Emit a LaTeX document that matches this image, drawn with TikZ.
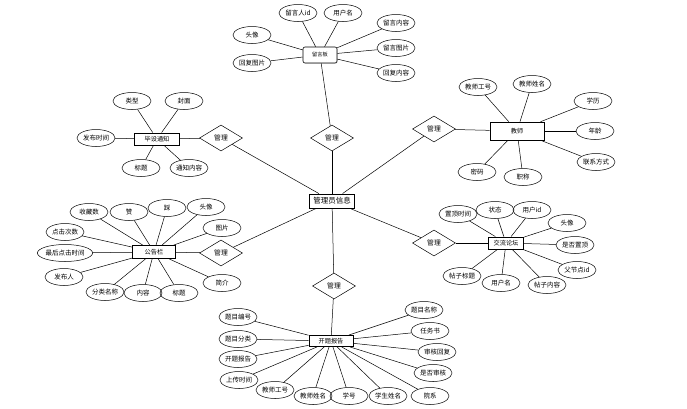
\documentclass[tikz,border=0pt]{standalone}
\usepackage{fontspec}
\newfontfamily\cjk{Noto Sans CJK SC}
\usepackage{tikz}
\usetikzlibrary{shapes.geometric, positioning, shadows}
\tikzset{
    entity/.style={
        rectangle,
        draw=black,
        line width=0.9pt,
        inner sep=1pt,
        align=center,
        fill=white,
        drop shadow={shadow xshift=0.7pt, shadow yshift=-0.7pt, fill=gray!60},
        font=\cjk\fontsize{6.2}{7}\selectfont
    },
    attr/.style={
        ellipse,
        draw=black,
        line width=0.5pt,
        inner sep=0pt,
        minimum width=38pt,
        minimum height=17pt,
        font=\cjk\fontsize{6.5}{7}\selectfont
    },
    relation/.style={
        diamond,
        draw=black,
        line width=0.5pt,
        inner sep=0pt,
        minimum width=43pt,
        minimum height=26pt,
        font=\cjk\fontsize{6.8}{7}\selectfont
    },
    link/.style={
        draw=black,
        line width=0.5pt
    }
}

\begin{document}
\begin{tikzpicture}[x=1pt, y=-1pt]

\useasboundingbox (0,0) rectangle (687,408);

% === CENTRE ===
\node[entity, minimum width=45pt, minimum height=14pt,
      font=\cjk\fontsize{7.5}{8}\selectfont] (admin) at (332,201) {管理员信息};

% === RELATIONS ===
\node[relation] (r1) at (332,138) {管理};
\node[relation] (r2) at (221,138) {管理};
\node[relation] (r3) at (434,129) {管理};
\node[relation] (r4) at (221,253) {管理};
\node[relation] (r5) at (434,243) {管理};
\node[relation] (r6) at (334,286) {管理};

\foreach \r in {r1, r2, r3, r4, r5, r6} {
    \draw[link] (admin) -- (\r);
}

% === ENTITIES ===
\node[entity, rounded corners=2pt, line width=0.6pt, minimum width=34pt,
      minimum height=16pt, font=\cjk\fontsize{5.2}{6}\selectfont] (board) at (320,55) {留言板};
\node[entity, minimum width=45pt, minimum height=12pt] (notice) at (157,139) {毕设通知};
\node[entity, line width=0.6pt, minimum width=54pt, minimum height=18pt] (teacher) at (517,131) {教师};
\node[entity, minimum width=43pt, minimum height=13pt] (bulletin) at (154,252) {公告栏};
\node[entity, minimum width=35pt, minimum height=12pt] (forum) at (506,243) {交流论坛};
\node[entity, minimum width=44pt, minimum height=11pt] (report) at (331,341) {开题报告};

\draw[link] (r1) -- (board);
\draw[link] (r2) -- (notice);
\draw[link] (r3) -- (teacher);
\draw[link] (r4) -- (bulletin);
\draw[link] (r5) -- (forum);
\draw[link] (r6) -- (report);

% === ATTRIBUTES ===

% 留言板
\foreach \x/\y/\txt [count=\i] in {298/13/留言人id, 343/13/用户名, 396/23/留言内容,
    396/48/留言图片, 396/73/回复内容, 252/35/头像, 252/63/回复图片} {
    \node[attr] (board-\i) at (\x,\y) {\txt};
    \draw[link] (board-\i) -- (board);
}

% 毕设通知
\foreach \x/\y/\txt [count=\i] in {132/101/类型, 184/101/封面, 96/138/发布时间,
    141/168/标题, 189/168/通知内容} {
    \node[attr] (notice-\i) at (\x,\y) {\txt};
    \draw[link] (notice-\i) -- (notice);
}

% 教师
\foreach \x/\y/\txt [count=\i] in {478/87/教师工号, 532/84/教师姓名, 593/101/学历,
    595/131/年龄, 596/162/联系方式, 477/172/密码, 523/177/职称} {
    \node[attr] (teacher-\i) at (\x,\y) {\txt};
    \draw[link] (teacher-\i) -- (teacher);
}

% 公告栏
\foreach \x/\y/\txt [count=\i] in {89/212/收藏数, 129/212/赞, 167/208/踩, 206/207/头像,
    222/228/图片, 65/232/点击次数, 65/253/最后点击时间, 64/277/发布人,
    105/292/分类名称, 143/293/内容, 179/293/标题, 222/283/简介} {
    \node[attr] (bulletin-\i) at (\x,\y) {\txt};
    \draw[link] (bulletin-\i) -- (bulletin);
}

% 交流论坛
\foreach \x/\y/\txt [count=\i] in {458/214/置顶时间, 495/210/状态, 532/210/用户id,
    567/223/头像, 575/245/是否置顶, 577/270/父节点id, 547/285/帖子内容,
    501/283/用户名, 462/276/帖子标题} {
    \node[attr] (forum-\i) at (\x,\y) {\txt};
    \draw[link] (forum-\i) -- (forum);
}

% 开题报告
\foreach \x/\y/\txt [count=\i] in {238/317/题目编号, 238/339/题目分类, 238/359/开题报告,
    239/380/上传时间, 275/390/教师工号, 313/396/教师姓名, 349/396/学号,
    388/396/学生姓名, 430/396/院系, 433/373/是否审核, 437/352/审核回复,
    430/331/任务书, 424/310/题目名称} {
    \node[attr] (report-\i) at (\x,\y) {\txt};
    \draw[link] (report-\i) -- (report);
}

\end{tikzpicture}
\end{document}
